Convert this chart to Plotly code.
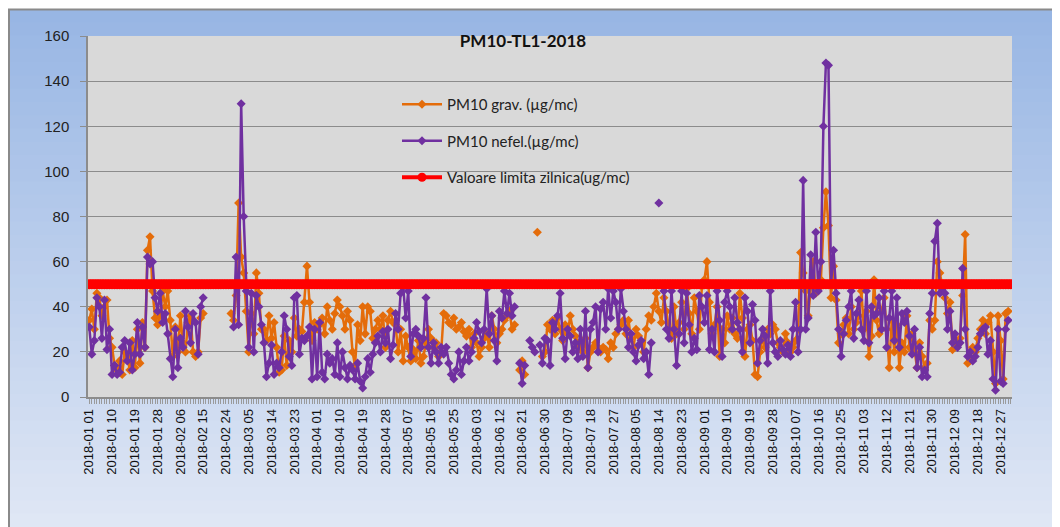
import pandas as pd
import plotly.graph_objects as go

N = None
# ---- data (daily values, µg/mc) ----
grav_jan = [34, 39, 30, 46, 44, 36, 40, 43, 26, 22, 14, 12, 16, 10, 20, 18, 12, 25, 13, 30, 15, 33, 22, 65, 71, 47, 35, 32, 36, 47, 40]
grav_feb = [47, 34, 18, 31, 20, 36, 24, 20, 33, 36, 20, 18, 20, 35, 37, N, N, N, N, N, N, N, N, N, N, 37, 34, 45]
grav_mar = [86, 62, 55, 38, 20, 37, 28, 55, 46, 30, 30, 25, 36, 26, 33, 22, 11, 12, 27, 14, 25, 20, 35, 27, 30, 29, 42, 58, 42, 25, 33]
grav_apr = [30, 32, 35, 28, 40, 34, 30, 37, 43, 40, 36, 30, 38, 34, 20, 14, 32, 25, 40, 28, 40, 38, 26, 30, 34, 30, 36, 22, 34, 38]
grav_may = [33, 32, 20, 30, 16, 27, 22, 16, 21, 17, 25, 15, 18, 24, 30, 26, 22, 24, 18, 20, 37, 36, 33, 32, 35, 30, 31, 33, 29, 27, 30]
grav_jun = [22, 28, 24, 18, 22, 26, 28, 22, 36, 30, 24, 28, 30, 34, 36, 38, 30, 32, N, 12, 16, 10, N, N, N, N, 73, N, 18, 20]
grav_jul = [32, 30, 34, 28, 35, 30, 25, 32, 28, 36, 30, 27, 24, 22, 20, 26, 13, 20, 22, 24, 22, 20, 22, 21, 17, 24, 22, 28, 30, 32, 34]
grav_aug = [28, 34, 26, 22, 30, 27, 24, 20, 30, 36, 34, 40, 46, 38, 33, 44, 38, 30, 26, 40, 28, 33, 42, 30, 48, 37, 28, 44, 38, 30, 49]
grav_sep = [52, 60, 42, 28, 32, 40, 18, 30, 24, 36, 30, 35, 28, 26, 46, 35, 18, 30, 32, 25, 10, 9, 20, 26, 22, 30, 28, 32, 30, 24]
grav_oct = [22, 20, 28, 24, 20, 22, 25, 30, 64, 55, 47, 36, 50, 60, 46, 48, 52, 75, 91, 76, 44, 58, 43, 24, 28, 32, 35, 28, 40, 30, 33]
grav_nov = [36, 47, 30, 38, 18, 27, 52, 34, 28, 38, 44, 30, 13, 34, 20, 32, 13, 24, 20, 36, 22, 28, 20, 13, 24, 18, 13, 15, 34, 30]
grav_dec = [34, 60, 55, 50, 44, 37, 42, 21, 25, 23, 26, 45, 72, 15, 17, 22, 20, 26, 30, 34, 28, 33, 36, 20, 6, 36, 25, 8, 37, 38, N]

nefel_jan = [31, 19, 25, 44, 40, 26, 43, 21, 30, 10, 14, 10, 11, 22, 25, 16, 24, 12, 19, 33, 19, 31, 22, 62, 59, 60, 44, 38, 46, 33, 37]
nefel_feb = [28, 17, 9, 30, 13, 26, 22, 38, 31, 24, 37, 33, 19, 40, 44, N, N, N, N, N, N, N, N, N, N, N, 31, 62]
nefel_mar = [32, 130, 80, 47, 22, 46, 20, 45, 40, 32, 24, 9, 15, 23, 10, 15, 13, 20, 36, 30, 18, 14, 44, 45, 19, 26, 25, 27, 31, 8, 30]
nefel_apr = [9, 33, 11, 8, 19, 15, 17, 10, 24, 9, 20, 13, 8, 14, 12, 8, 15, 7, 4, 9, 17, 11, 19, 24, 27, 20, 29, 24, 30, 17]
nefel_may = [23, 37, 30, 46, 49, 35, 47, 18, 28, 30, 27, 22, 26, 44, 22, 15, 24, 20, 15, 22, 19, 22, 15, 10, 8, 12, 20, 10, 16, 22, 16]
nefel_jun = [20, 26, 33, 29, 24, 30, 48, 28, 36, 25, 16, 38, 35, 47, 37, 46, 36, 40, N, 15, 6, 14, N, 25, 22, 20, N, 23, 15, 26]
nefel_jul = [25, 14, 33, 30, 36, 46, 26, 17, 30, 27, 20, 24, 17, 30, 18, 38, 13, 30, 33, 40, 20, 39, 42, 30, 48, 35, 47, 42, 30, 48, 38]
nefel_aug = [30, 22, 28, 20, 16, 23, 25, 17, 20, 10, 24, N, N, 86, N, 47, 30, 26, 47, 30, 14, 28, 47, 24, 46, 32, 20, 26, 21, 45, 40]
nefel_sep = [33, 45, 21, 30, 20, 47, 34, 18, 42, 47, 40, 30, 44, 33, 30, 20, 44, 38, 24, 41, 34, 15, 25, 30, 27, 15, 47, 24, 20, 18]
nefel_oct = [25, 21, 19, 23, 18, 30, 42, 20, 30, 96, 30, 35, 63, 45, 73, 47, 60, 120, 148, 147, 50, 65, 46, 30, 18, 28, 34, 40, 47, 26, 37]
nefel_nov = [43, 30, 25, 47, 24, 40, 36, 37, 44, 30, 47, 22, 35, 47, 25, 44, 22, 37, 33, 38, 27, 19, 30, 13, 22, 9, 12, 9, 37, 46]
nefel_dec = [69, 77, 46, 48, 46, 30, 38, 24, 28, 22, 24, 57, 30, 18, 20, 16, 18, 22, 28, 30, 31, 19, 25, 8, 3, 30, 7, 6, 30, 34, N]

limit_value = 50
start_date = "2018-01-01"
end_date = "2018-12-31"
label_step = 9

grav = grav_jan + grav_feb + grav_mar + grav_apr + grav_may + grav_jun + grav_jul + grav_aug + grav_sep + grav_oct + grav_nov + grav_dec
nefel = nefel_jan + nefel_feb + nefel_mar + nefel_apr + nefel_may + nefel_jun + nefel_jul + nefel_aug + nefel_sep + nefel_oct + nefel_nov + nefel_dec
dates = pd.date_range(start_date, end_date, freq="D")
cats = [d.strftime("%Y-%m-%d") for d in dates]
limit = [limit_value] * len(cats)
ticktext = [(d.strftime("%Y-%m %d") if i % label_step == 0 else "") for i, d in enumerate(dates)]

# ---- layout geometry (page pixels; the page body adds an 8px offset) ----
OFF = 8
W, H = 1060 - OFF, 527 - OFF
PL, PR, PT, PB = 88, 1012, 36, 397          # plot area in page pixels
L, T = PL - OFF, PT - OFF
R, B = W - (PR - OFF), H - (PB - OFF)
PW, PH = PR - PL, PB - PT


def xp(px):
    return (px - PL) / PW


def yp(py):
    return (PB - py) / PH


fig = go.Figure()
fig.add_trace(go.Scatter(
    x=cats, y=grav, mode="lines+markers", name="PM10 grav. (µg/mc)",
    line=dict(color="#E46C0A", width=2.5), marker=dict(symbol="diamond", size=7, color="#E46C0A"),
    connectgaps=False, legendgroup="a"))
fig.add_trace(go.Scatter(
    x=cats, y=nefel, mode="lines+markers", name="PM10 nefel.(µg/mc)",
    line=dict(color="#7030A0", width=2.5), marker=dict(symbol="diamond", size=7, color="#7030A0"),
    connectgaps=False, legendgroup="b"))
fig.add_trace(go.Scatter(
    x=cats, y=limit, mode="lines+markers", name="Valoare limita zilnica(ug/mc)",
    line=dict(color="#FF0000", width=8), marker=dict(symbol="circle", size=10, color="#FF0000"),
    legendgroup="c", showlegend=False))
# legend entry for the limit line (thinner symbol, as in the original legend)
fig.add_trace(go.Scatter(
    x=[None], y=[None], mode="lines+markers", name="Valoare limita zilnica(ug/mc)",
    line=dict(color="#FF0000", width=4), marker=dict(symbol="circle", size=9, color="#FF0000"),
    legendgroup="c", showlegend=True, hoverinfo="skip"))

# gradient background inside the chart frame
shapes = []
top_c = (152, 182, 228)
bot_c = (225, 232, 245)
y_top, y_bot = 9, 540
nb = 40
for i in range(nb):
    t = i / (nb - 1)
    c = tuple(round(top_c[k] + (bot_c[k] - top_c[k]) * t) for k in range(3))
    y0 = y_top + (y_bot - y_top) * i / nb
    y1 = y_top + (y_bot - y_top) * (i + 1) / nb + 1
    shapes.append(dict(type="rect", xref="paper", yref="paper", layer="below",
                       x0=xp(7), x1=xp(1070), y0=yp(y1), y1=yp(y0),
                       fillcolor="rgb(%d,%d,%d)" % c, line=dict(width=0)))
shapes.append(dict(type="rect", xref="paper", yref="paper", layer="below",
                   x0=0, x1=1, y0=0, y1=1, fillcolor="#D9D9D9", line=dict(width=0)))
shapes.append(dict(type="rect", xref="paper", yref="paper", layer="below",
                   x0=xp(9), x1=xp(1075), y0=yp(540), y1=yp(9.5),
                   fillcolor="rgba(0,0,0,0)", line=dict(color="#8A8A8A", width=2)))

fig.update_layout(
    width=W, height=H,
    margin=dict(l=L, r=R, t=T, b=B, pad=0),
    paper_bgcolor="white", plot_bgcolor="#D9D9D9",
    shapes=shapes,
    font=dict(family="Lato", size=15, color="#222"),
    title=dict(text="PM10-TL1-2018", x=(523 - OFF) / W, xanchor="center",
               y=1 - (41 - OFF) / H, yanchor="middle",
               font=dict(family="Lato", size=17, color="#111", weight="bold")),
    legend=dict(x=xp(397), y=yp(88), xanchor="left", yanchor="top", bgcolor="rgba(0,0,0,0)",
                font=dict(family="Lato", size=15, color="#222"), tracegroupgap=14,
                itemwidth=40),
    showlegend=True,
)
fig.update_xaxes(
    type="category", tickmode="array", tickvals=cats, ticktext=ticktext, tickangle=-90,
    tickfont=dict(family="Liberation Sans", size=13, color="#111"),
    ticks="outside", ticklen=5, tickwidth=1, tickcolor="#9A9A9A",
    showline=True, linecolor="#8C8C8C", linewidth=1.5, showgrid=False,
    range=[-0.5, len(cats) - 0.5],
)
fig.update_yaxes(
    range=[0, 160], dtick=20, tick0=0, showgrid=True, gridcolor="#8C8C8C", gridwidth=1.2,
    zeroline=False, showline=True, linecolor="#8C8C8C", linewidth=1.5,
    ticks="outside", ticklen=6, tickcolor="#8C8C8C", ticklabelstandoff=8,
    tickfont=dict(family="Liberation Sans", size=15, color="#222"),
)

fig.write_html("out.html")
